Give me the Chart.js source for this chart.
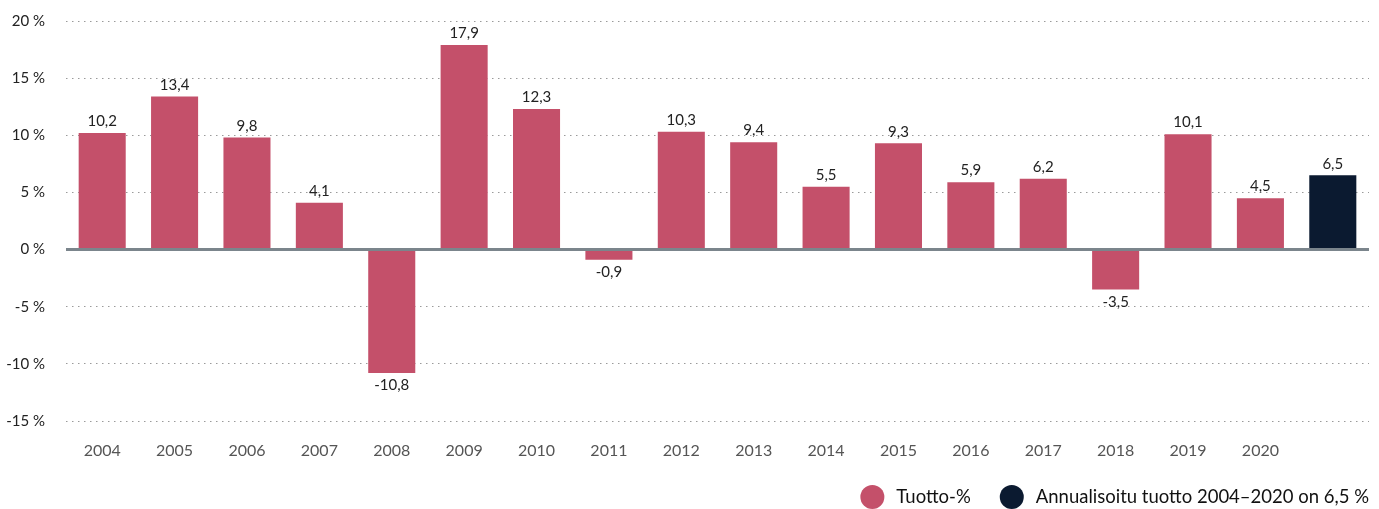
<!DOCTYPE html>
<html>
<head>
<meta charset="utf-8">
<script src="https://cdn.jsdelivr.net/npm/chart.js@4"></script>
<style>
  html, body { margin: 0; padding: 0; background: #fff; }
  #wrap { width: 1379px; height: 509px; position: relative; }
</style>
</head>
<body>
<div id="wrap"><canvas id="c"></canvas></div>
<script>
// --- Data ---
const years = ['2004', '2005', '2006', '2007', '2008', '2009', '2010', '2011', '2012',
  '2013', '2014', '2015', '2016', '2017', '2018', '2019', '2020', ''];
const returns = [10.2, 13.4, 9.8, 4.1, -10.8, 17.9, 12.3, -0.9, 10.3, 9.4, 5.5, 9.3, 5.9, 6.2, -3.5, 10.1, 4.5, 6.5];
const legendTexts = ['Tuotto-%', 'Annualisoitu tuotto 2004–2020 on 6,5 %'];
const yTicks = [-15, -10, -5, 0, 5, 10, 15, 20];

const PINK = '#c4506a';
const NAVY = '#0b1a30';
const barColors = returns.map((v, i) => i === returns.length - 1 ? NAVY : PINK);

const fmt = v => v.toFixed(1).replace('.', ',');

// value labels above / below the bars
const valueLabels = {
  id: 'valueLabels',
  afterDatasetsDraw(chart) {
    const ctx = chart.ctx;
    const meta = chart.getDatasetMeta(0);
    ctx.save();
    ctx.font = '15px Lato';
    ctx.fillStyle = '#222';
    ctx.textAlign = 'center';
    meta.data.forEach((bar, i) => {
      const v = returns[i];
      if (v >= 0) {
        ctx.textBaseline = 'bottom';
        ctx.fillText(fmt(v), bar.x, bar.y - 4);
      } else {
        ctx.textBaseline = 'top';
        ctx.fillText(fmt(v), bar.x, bar.y + 5);
      }
    });
    ctx.restore();
  }
};

// legend bottom right: circle + text, right aligned
const bottomLegend = {
  id: 'bottomLegend',
  afterDraw(chart) {
    const ctx = chart.ctx;
    const items = [PINK, NAVY].map((c, i) => ({ color: c, text: legendTexts[i] }));
    ctx.save();
    ctx.font = '18.5px Lato';
    ctx.textBaseline = 'middle';
    ctx.textAlign = 'left';
    const y = 497;
    let x = chart.width - 10;
    for (let i = items.length - 1; i >= 0; i--) {
      const w = ctx.measureText(items[i].text).width;
      x -= w;
      ctx.fillStyle = '#111';
      ctx.fillText(items[i].text, x, y);
      ctx.fillStyle = items[i].color;
      ctx.beginPath();
      ctx.arc(x - 24, y, 12, 0, Math.PI * 2);
      ctx.fill();
      x -= 24 + 12 + 29;
    }
    ctx.restore();
  }
};

new Chart(document.getElementById('c'), {
  type: 'bar',
  data: {
    labels: years,
    datasets: [{
      data: returns,
      backgroundColor: barColors,
      categoryPercentage: 0.65,
      barPercentage: 1
    }]
  },
  options: {
    responsive: true,
    maintainAspectRatio: false,
    animation: false,
    layout: { padding: { top: 21, right: 10, left: 0, bottom: 40 } },
    plugins: {
      tooltip: { enabled: false },
      legend: { display: false }
    },
    scales: {
      x: {
        grid: { display: false },
        border: { display: false },
        ticks: { color: '#555', font: { family: 'Lato', size: 16 }, padding: 12, maxRotation: 0 },
        afterFit: s => { s.height = 48; }
      },
      y: {
        min: -15,
        max: 20,
        afterBuildTicks: s => { s.ticks = yTicks.map(v => ({ value: v })); },
        afterFit: s => { s.width = 66; s.paddingTop = 0; s.paddingBottom = 0; },
        border: {
          display: false,
          dash: c => c.tick && c.tick.value === 0 ? [] : [1.5, 4.5]
        },
        grid: {
          drawTicks: false,
          color: c => c.tick && c.tick.value === 0 ? '#7b858c' : '#9a9a9a',
          lineWidth: c => c.tick && c.tick.value === 0 ? 3 : 1
        },
        ticks: {
          color: '#222',
          padding: 21,
          font: { family: 'Lato', size: 15 },
          callback: v => v + ' %'
        }
      }
    }
  },
  plugins: [valueLabels, bottomLegend]
});
</script>
</body>
</html>
